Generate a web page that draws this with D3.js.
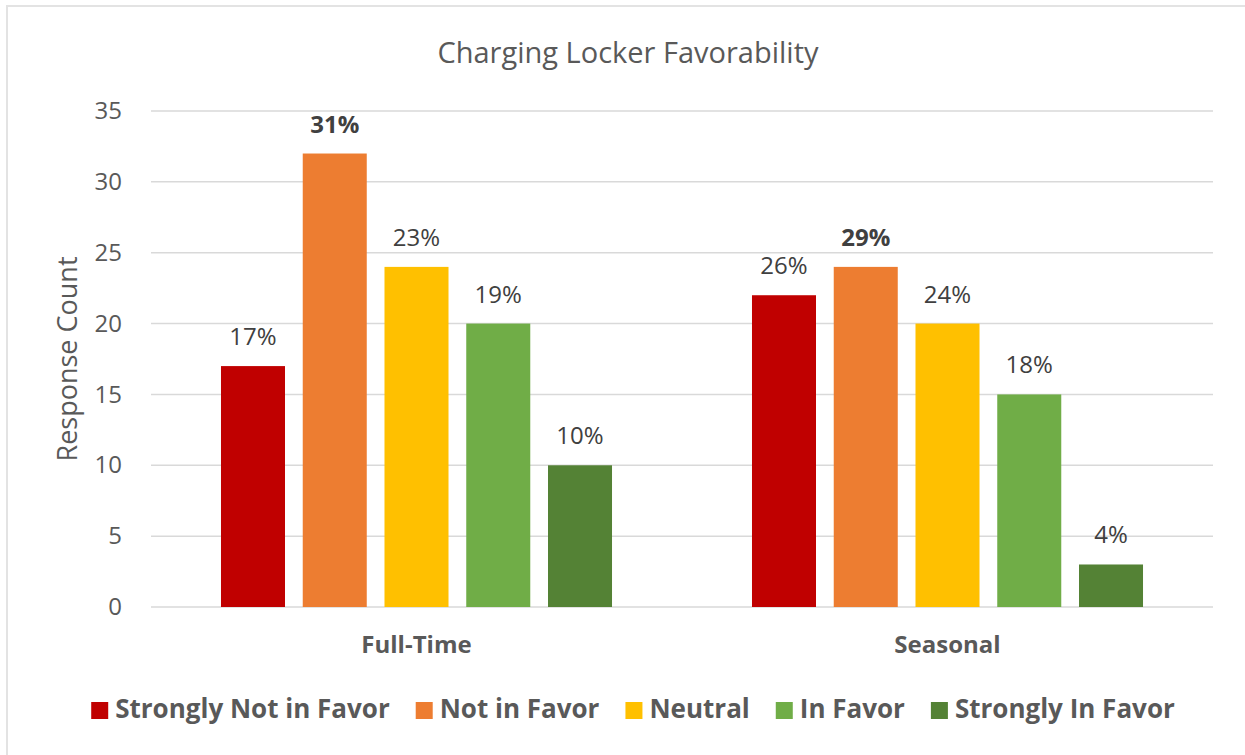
<!DOCTYPE html>
<html>
<head>
<meta charset="utf-8">
<style>
body { margin: 0; background: #fff; }
#chart { font-family: "Open Sans", Lato, sans-serif; }
</style>
<script src="https://cdn.jsdelivr.net/npm/d3@7"></script>
</head>
<body>
<div id="chart"></div>
<script>
// data
var groups = ["Full-Time", "Seasonal"];
var series = ["Strongly Not in Favor", "Not in Favor", "Neutral", "In Favor", "Strongly In Favor"];
var colors = ["#C00000", "#ED7D31", "#FFC000", "#70AD47", "#548235"];
var fullTime = [17, 32, 24, 20, 10];
var seasonal = [22, 24, 20, 15, 3];
var fullTimeLabels = ["17%", "31%", "23%", "19%", "10%"];
var seasonalLabels = ["26%", "29%", "24%", "18%", "4%"];
var yTicks = [0, 5, 10, 15, 20, 25, 30, 35];

var values = [fullTime, seasonal];
var labels = [fullTimeLabels, seasonalLabels];

var width = 1245, height = 755;
var plot = {left: 151, right: 1213, top: 111, bottom: 607};

var svg = d3.select("#chart").append("svg")
    .attr("width", width)
    .attr("height", height);

// outer frame
svg.append("path")
    .attr("d", "M7," + height + "V6H" + width)
    .attr("fill", "none")
    .attr("stroke", "#e3e3e3")
    .attr("stroke-width", 2);

svg.append("text")
    .attr("x", 628)
    .attr("y", 63)
    .attr("text-anchor", "middle")
    .attr("fill", "#595959")
    .style("font-size", "29px")
    .text("Charging Locker Favorability");

var y = d3.scaleLinear().domain([0, 35]).range([plot.bottom, plot.top]);
var x0 = d3.scaleBand().domain(groups).range([plot.left, plot.right]);
var x1 = d3.scaleBand().domain(series).range([0, x0.bandwidth()])
    .paddingInner(0.217).paddingOuter(0.856);

// gridlines
svg.append("g")
    .selectAll("line")
    .data(yTicks)
    .join("line")
    .attr("x1", plot.left)
    .attr("x2", plot.right)
    .attr("y1", function(d) { return y(d); })
    .attr("y2", function(d) { return y(d); })
    .attr("stroke", "#d9d9d9")
    .attr("stroke-width", 1.5);

var yAxis = svg.append("g")
    .attr("transform", "translate(" + (plot.left - 17) + ",0)")
    .call(d3.axisLeft(y).tickValues(yTicks).tickSize(0).tickPadding(12));
yAxis.select(".domain").remove();
yAxis.selectAll("text")
    .attr("fill", "#595959")
    .style("font-family", "'Open Sans', sans-serif")
    .style("font-size", "24px");

svg.append("text")
    .attr("transform", "translate(77,359)rotate(-90)")
    .attr("text-anchor", "middle")
    .attr("fill", "#595959")
    .style("font-size", "27px")
    .text("Response Count");

var groupG = svg.append("g")
    .selectAll("g")
    .data(groups)
    .join("g")
    .attr("transform", function(d) { return "translate(" + x0(d) + ",0)"; });

groupG.selectAll("rect")
    .data(function(g, gi) {
        return series.map(function(s, i) { return {s: s, v: values[gi][i], c: colors[i]}; });
    })
    .join("rect")
    .attr("x", function(d) { return x1(d.s); })
    .attr("y", function(d) { return y(d.v); })
    .attr("width", x1.bandwidth())
    .attr("height", function(d) { return y(0) - y(d.v); })
    .attr("fill", function(d) { return d.c; });

groupG.selectAll("text.lbl")
    .data(function(g, gi) {
        var vals = values[gi];
        var top = d3.max(vals);
        return series.map(function(s, i) {
            return {s: s, v: vals[i], t: labels[gi][i], bold: vals[i] === top};
        });
    })
    .join("text")
    .attr("class", "lbl")
    .attr("x", function(d) { return x1(d.s) + x1.bandwidth() / 2; })
    .attr("y", function(d) { return y(d.v) - 21; })
    .attr("text-anchor", "middle")
    .attr("fill", "#404040")
    .style("font-size", "24px")
    .style("font-weight", function(d) { return d.bold ? "bold" : "normal"; })
    .text(function(d) { return d.t; });

groupG.append("text")
    .attr("x", x0.bandwidth() / 2)
    .attr("y", 653)
    .attr("text-anchor", "middle")
    .attr("fill", "#595959")
    .style("font-size", "24px")
    .style("font-weight", "bold")
    .text(function(d) { return d; });

// legend
var legend = svg.append("g");
var lx = 0;
series.forEach(function(s, i) {
    var item = legend.append("g").attr("transform", "translate(" + lx + ",0)");
    item.append("rect")
        .attr("x", 0).attr("y", -16)
        .attr("width", 17).attr("height", 17)
        .attr("fill", colors[i]);
    var t = item.append("text")
        .attr("x", 24)
        .attr("y", 0)
        .attr("fill", "#595959")
        .style("font-size", "26px")
        .style("font-weight", "bold")
        .text(s);
    lx += 24 + t.node().getComputedTextLength() + 26;
});
lx -= 26;
legend.attr("transform", "translate(" + (633 - lx / 2) + ",718)");
</script>
</body>
</html>
